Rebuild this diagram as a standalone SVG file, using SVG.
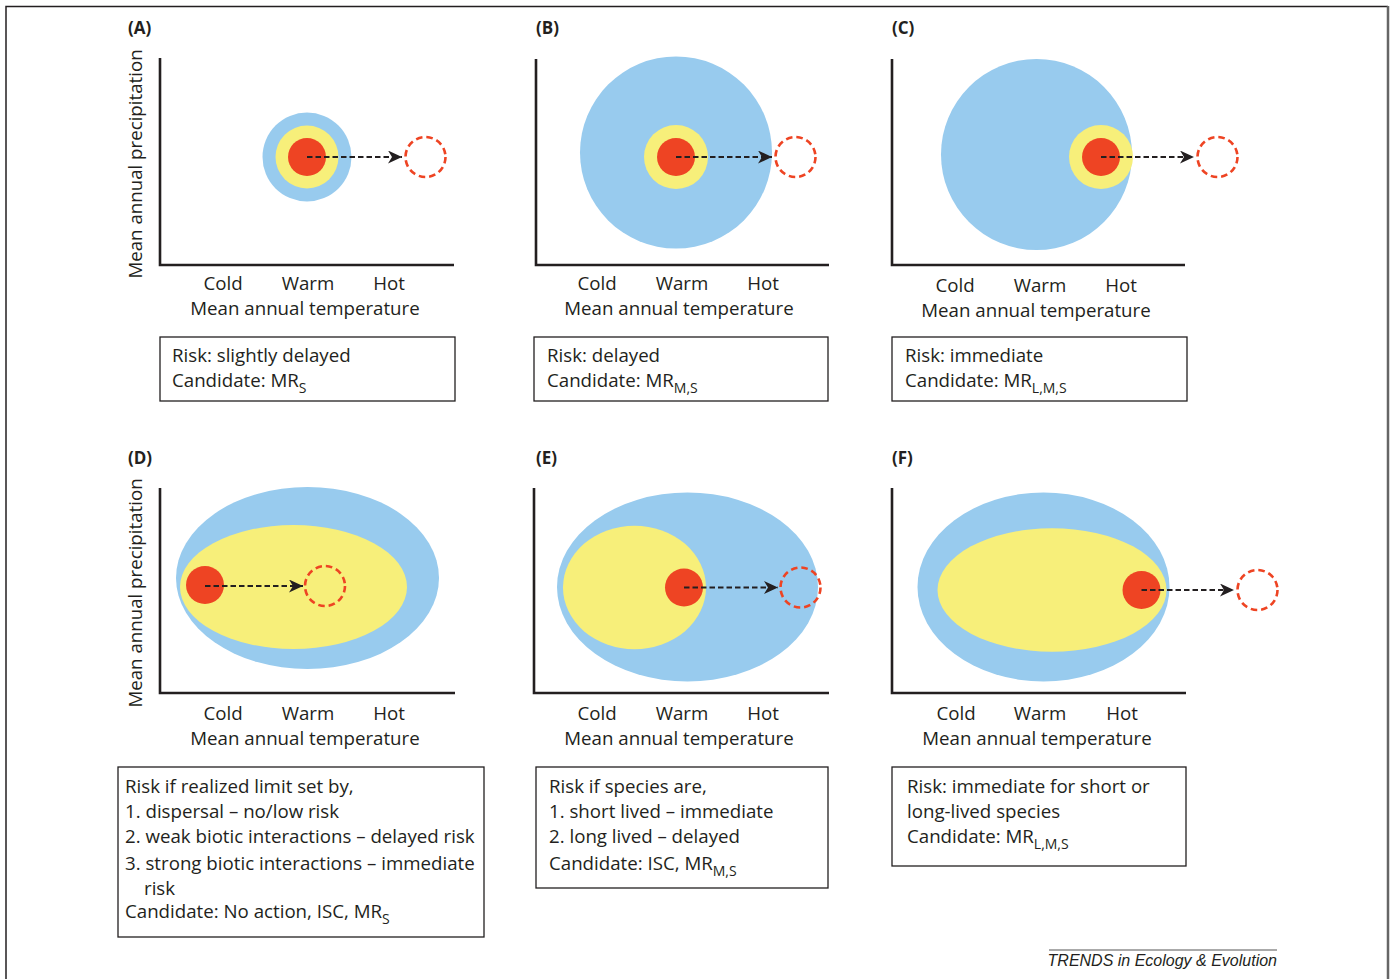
<svg xmlns="http://www.w3.org/2000/svg" width="1392" height="979" viewBox="0 0 1392 979">
<defs>
<style>
.t{font-family:"Open Sans","Liberation Sans",sans-serif;font-size:18.7px;fill:#231f20}
.m{text-anchor:middle}
.pl{font-family:"Open Sans","Liberation Sans",sans-serif;font-size:17px;font-weight:bold;fill:#231f20}
.sub{font-size:14px}
.ax{fill:none;stroke:#231f20;stroke-width:2.6}
.bx{fill:#fff;stroke:#231f20;stroke-width:1.3}
.blue{fill:#98cbee}
.yel{fill:#f7ef7a}
.red{fill:#ee4423}
.dc{fill:none;stroke:#ee4423;stroke-width:2.6;stroke-dasharray:6.5 4}
.ar{fill:none;stroke:#231f20;stroke-width:2;stroke-dasharray:5.5 3}
</style>
<marker id="ah" markerUnits="userSpaceOnUse" markerWidth="15" markerHeight="13" refX="14" refY="6.5" orient="auto">
<path d="M0,0 L14,6.5 L0,13 L4,6.5 Z" fill="#231f20"/>
</marker>
</defs>
<rect x="0" y="0" width="1392" height="979" fill="#fff"/>
<path d="M6,985 L6,6.5 L1388,6.5" fill="none" stroke="#231f20" stroke-width="1.5"/>
<line x1="1388" y1="6" x2="1388" y2="985" stroke="#666" stroke-width="2.5"/>

<g id="panelA">
<text class="pl" x="128" y="34">(A)</text>
<path class="ax" d="M160,58 V265 H454"/>
<circle class="blue" cx="307" cy="157" r="44.5"/>
<circle class="yel" cx="307" cy="157" r="31.5"/>
<circle class="red" cx="307" cy="157" r="19"/>
<circle class="dc" cx="425.5" cy="157" r="20"/>
<text class="t" transform="translate(142,164) rotate(-90)" text-anchor="middle">Mean annual precipitation</text>
<text class="t m" x="223" y="290">Cold</text>
<text class="t m" x="308" y="290">Warm</text>
<text class="t m" x="389" y="290">Hot</text>
<text class="t m" x="305" y="315">Mean annual temperature</text>
</g>
<g id="boxA">
<rect class="bx" x="160" y="337" width="295" height="64"/>
<text class="t" x="172" y="362">Risk: slightly delayed</text>
<text class="t" x="172" y="387">Candidate: MR<tspan class="sub" dy="6">S</tspan></text>
</g>

<g id="panelB">
<text class="pl" x="536" y="34">(B)</text>
<path class="ax" d="M536,59 V265 H829"/>
<circle class="blue" cx="676" cy="152.5" r="96"/>
<circle class="yel" cx="676" cy="157" r="32"/>
<circle class="red" cx="676" cy="157" r="19"/>
<circle class="dc" cx="795.5" cy="157" r="20"/>
<text class="t m" x="597" y="290">Cold</text>
<text class="t m" x="682" y="290">Warm</text>
<text class="t m" x="763" y="290">Hot</text>
<text class="t m" x="679" y="315">Mean annual temperature</text>
</g>
<g id="boxB">
<rect class="bx" x="534" y="337" width="294" height="64"/>
<text class="t" x="547" y="362">Risk: delayed</text>
<text class="t" x="547" y="387">Candidate: MR<tspan class="sub" dy="6">M,S</tspan></text>
</g>

<g id="panelC">
<text class="pl" x="892" y="34">(C)</text>
<path class="ax" d="M892,59 V265 H1185"/>
<circle class="blue" cx="1036.5" cy="154.5" r="95.5"/>
<circle class="yel" cx="1101" cy="157" r="32"/>
<circle class="red" cx="1101" cy="157" r="19"/>
<circle class="dc" cx="1217.5" cy="157" r="20"/>
<text class="t m" x="955" y="292">Cold</text>
<text class="t m" x="1040" y="292">Warm</text>
<text class="t m" x="1121" y="292">Hot</text>
<text class="t m" x="1036" y="317">Mean annual temperature</text>
</g>
<g id="boxC">
<rect class="bx" x="892" y="337" width="295" height="64"/>
<text class="t" x="905" y="362">Risk: immediate</text>
<text class="t" x="905" y="387">Candidate: MR<tspan class="sub" dy="6">L,M,S</tspan></text>
</g>

<g id="panelD">
<text class="pl" x="128" y="464">(D)</text>
<path class="ax" d="M160,488 V693 H455"/>
<ellipse class="blue" cx="307.5" cy="578" rx="131.5" ry="91"/>
<ellipse class="yel" cx="293.5" cy="587" rx="113.5" ry="62"/>
<circle class="red" cx="205" cy="585" r="19"/>
<circle class="dc" cx="325" cy="586" r="20"/>
<text class="t" transform="translate(142,593) rotate(-90)" text-anchor="middle">Mean annual precipitation</text>
<text class="t m" x="223" y="720">Cold</text>
<text class="t m" x="308" y="720">Warm</text>
<text class="t m" x="389" y="720">Hot</text>
<text class="t m" x="305" y="745">Mean annual temperature</text>
</g>
<g id="boxD">
<rect class="bx" x="118" y="767" width="366" height="170"/>
<text class="t" x="125" y="793">Risk if realized limit set by,</text>
<text class="t" x="125" y="818">1. dispersal – no/low risk</text>
<text class="t" x="125" y="843">2. weak biotic interactions – delayed risk</text>
<text class="t" x="125" y="870">3. strong biotic interactions – immediate</text>
<text class="t" x="144" y="895">risk</text>
<text class="t" x="125" y="918">Candidate: No action, ISC, MR<tspan class="sub" dy="6">S</tspan></text>
</g>

<g id="panelE">
<text class="pl" x="536" y="464">(E)</text>
<path class="ax" d="M534,488 V693 H829"/>
<ellipse class="blue" cx="687.5" cy="587" rx="130.5" ry="94.5"/>
<ellipse class="yel" cx="634.5" cy="587.5" rx="71.5" ry="61.7"/>
<circle class="red" cx="684" cy="587.5" r="19"/>
<circle class="dc" cx="800.5" cy="587.5" r="20"/>
<text class="t m" x="597" y="720">Cold</text>
<text class="t m" x="682" y="720">Warm</text>
<text class="t m" x="763" y="720">Hot</text>
<text class="t m" x="679" y="745">Mean annual temperature</text>
</g>
<g id="boxE">
<rect class="bx" x="536" y="767" width="292" height="121"/>
<text class="t" x="549" y="793">Risk if species are,</text>
<text class="t" x="549" y="818">1. short lived – immediate</text>
<text class="t" x="549" y="843">2. long lived – delayed</text>
<text class="t" x="549" y="870">Candidate: ISC, MR<tspan class="sub" dy="6">M,S</tspan></text>
</g>

<g id="panelF">
<text class="pl" x="892" y="464">(F)</text>
<path class="ax" d="M892,488 V693 H1186"/>
<ellipse class="blue" cx="1043.5" cy="587" rx="126" ry="94.5"/>
<ellipse class="yel" cx="1052" cy="590" rx="114.5" ry="61.7"/>
<circle class="red" cx="1141.5" cy="590" r="19"/>
<circle class="dc" cx="1257.5" cy="590" r="20"/>
<text class="t m" x="956" y="720">Cold</text>
<text class="t m" x="1040" y="720">Warm</text>
<text class="t m" x="1122" y="720">Hot</text>
<text class="t m" x="1037" y="745">Mean annual temperature</text>
</g>
<g id="boxF">
<rect class="bx" x="892" y="767" width="294" height="99"/>
<text class="t" x="907" y="793">Risk: immediate for short or</text>
<text class="t" x="907" y="818">long-lived species</text>
<text class="t" x="907" y="843">Candidate: MR<tspan class="sub" dy="6">L,M,S</tspan></text>
</g>

<g id="connectors">
<line class="ar" x1="307" y1="157" x2="402" y2="157" marker-end="url(#ah)"/>
<line class="ar" x1="676" y1="157" x2="772" y2="157" marker-end="url(#ah)"/>
<line class="ar" x1="1101" y1="157" x2="1194" y2="157" marker-end="url(#ah)"/>
<line class="ar" x1="205" y1="586" x2="303" y2="586" marker-end="url(#ah)"/>
<line class="ar" x1="684" y1="587.5" x2="778" y2="587.5" marker-end="url(#ah)"/>
<line class="ar" x1="1141.5" y1="590" x2="1234" y2="590" marker-end="url(#ah)"/>
</g>

<g id="credit">
<line x1="1049" y1="950" x2="1277" y2="950" stroke="#555" stroke-width="1"/>
<text x="1277" y="966" text-anchor="end" font-family="Liberation Sans, Arial, sans-serif" font-size="16" font-style="italic" fill="#231f20">TRENDS in Ecology &amp; Evolution</text>
</g>
</svg>
